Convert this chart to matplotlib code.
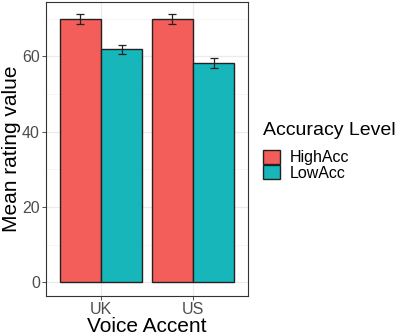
import numpy as np
import matplotlib.pyplot as plt

plt.rcParams['font.family'] = ['Liberation Sans', 'DejaVu Sans']

accents = ['UK', 'US']
levels = ['HighAcc', 'LowAcc']
high_mean = [69.9, 69.9]
low_mean = [61.8, 58.2]
high_se = [1.3, 1.3]
low_se = [1.3, 1.3]
colori = ['#F35D5A', '#17B6BA']

fig = plt.figure(figsize=(4, 3.34), dpi=100)
ax = fig.add_axes([46 / 400, 1 - 296 / 334, 202 / 400, 294 / 334])

x = np.arange(1, len(accents) + 1)
w = 0.45
for i, (vals, errs) in enumerate([(high_mean, high_se), (low_mean, low_se)]):
    pos = x + (i - 0.5) * w
    ax.bar(pos, vals, width=w, color=colori[i], edgecolor='#222222',
           linewidth=1.0, label=levels[i], zorder=3)
    ax.errorbar(pos, vals, yerr=errs, fmt='none', ecolor='#222222',
                elinewidth=0.9, capsize=3, capthick=0.9, zorder=4)

ax.set_xlim(0.4, 2.6)
ax.set_ylim(-3.6, 74.4)
ax.set_xticks(x)
ax.set_xticklabels(accents)
ax.set_yticks([0, 20, 40, 60])
ax.set_yticks([10, 30, 50, 70], minor=True)
ax.grid(which='major', color='#EBEBEB', linewidth=0.9, zorder=0)
ax.grid(which='minor', axis='y', color='#F3F3F3', linewidth=0.5, zorder=0)
ax.tick_params(which='major', labelsize=11.5, colors='#333333', length=3,
               width=0.6, labelcolor='#4D4D4D', pad=1.5)
ax.tick_params(which='minor', length=0)
for s in ax.spines.values():
    s.set_color('#333333')
    s.set_linewidth(0.8)
ax.set_xlabel('Voice Accent', fontsize=15)
ax.xaxis.set_label_coords(0.5, -(317 - 296) / 294)
ax.set_ylabel('Mean rating value', fontsize=15)
ax.yaxis.set_label_coords(-(46 - 21) / 202, 0.5)

leg = ax.legend(title='Accuracy Level', loc='upper left',
                bbox_to_anchor=(263 / 400, 1 - 122 / 334),
                bbox_transform=fig.transFigure, frameon=False,
                fontsize=11.5, title_fontsize=14, handlelength=1.05,
                handleheight=0.95, handletextpad=0.6, labelspacing=0.0,
                borderaxespad=0, borderpad=0)
leg._legend_box.align = 'left'
leg._legend_box.sep = 8

fig.savefig('out.png', dpi=100)
